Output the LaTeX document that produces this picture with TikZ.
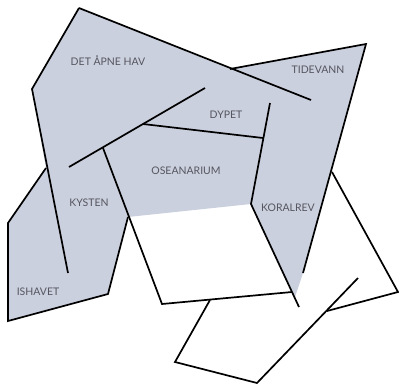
\documentclass[tikz,border=0pt]{standalone}
\usepackage{fontspec}
\setmainfont{Lato}
\usepackage{tikz}

\definecolor{seafill}{RGB}{203,208,222}
\definecolor{labelgray}{RGB}{85,85,95}

\begin{document}
\begin{tikzpicture}[
    x=1bp, y=-1bp,
    every node/.style={font=\fontsize{10.5}{12}\selectfont, text=labelgray, inner sep=0pt},
    border/.style={draw=black, line width=1.7bp},
    zone/.style={fill=seafill, draw=none}
]
\useasboundingbox (0,0) rectangle (399,385);

% Corner points
\coordinate (top) at (79,8);
\coordinate (tidL) at (230,69);
\coordinate (tidR) at (366,44);
\coordinate (havE) at (311,100);
\coordinate (westA) at (32,89);
\coordinate (kystS) at (68,273);
\coordinate (isN) at (46,168);
\coordinate (isW) at (8,223);
\coordinate (isSW) at (8,321);
\coordinate (isSE) at (108,294);
\coordinate (isE) at (128,217);
\coordinate (kystN) at (103,148);
\coordinate (oseSW) at (162,304);
\coordinate (oseSE) at (292,292);
\coordinate (diagW) at (69,167);
\coordinate (diagE) at (205,88);
\coordinate (dypW) at (143,124);
\coordinate (dypE) at (263,138);
\coordinate (korN) at (270,103);
\coordinate (korW) at (251,204);
\coordinate (korS) at (299,307);
\coordinate (eastS) at (303,273);
\coordinate (tip) at (295,297);
\coordinate (revN) at (332,172);
\coordinate (revE) at (398,292);
\coordinate (revS) at (327,311);
\coordinate (lowNE) at (358,278);
\coordinate (lowS) at (257,383);
\coordinate (lowW) at (175,362);
\coordinate (lowN) at (210,300);

% Shaded water
\fill [zone] (top) -- (tidL) -- (tidR) -- (eastS) -- (tip) -- (korW) -- (isE)
    -- (isSE) -- (isSW) -- (isW) -- (isN) -- (westA) -- cycle;

% Borders
\draw [border] (top) -- (havE);
\draw [border] (tidL) -- (tidR) -- (eastS);
\draw [border] (top) -- (westA) -- (kystS);
\draw [border] (isN) -- (isW) -- (isSW) -- (isSE) -- (isE);
\draw [border] (kystN) -- (oseSW) -- (oseSE);
\draw [border] (diagW) -- (diagE);
\draw [border] (dypW) -- (dypE);
\draw [border] (korN) -- (korW) -- (korS);
\draw [border] (revN) -- (revE) -- (revS);
\draw [border] (lowNE) -- (lowS) -- (lowW) -- (lowN);

% Labels
\node (hav) at (108,61) {DET ÅPNE HAV};
\node (tidevann) at (318,70) {TIDEVANN};
\node (dypet) at (226,115) {DYPET};
\node (oseanarium) at (186,171) {OSEANARIUM};
\node (kysten) at (89,203) {KYSTEN};
\node (koralrev) at (288,208) {KORALREV};
\node (ishavet) at (38,292) {ISHAVET};

\end{tikzpicture}
\end{document}
